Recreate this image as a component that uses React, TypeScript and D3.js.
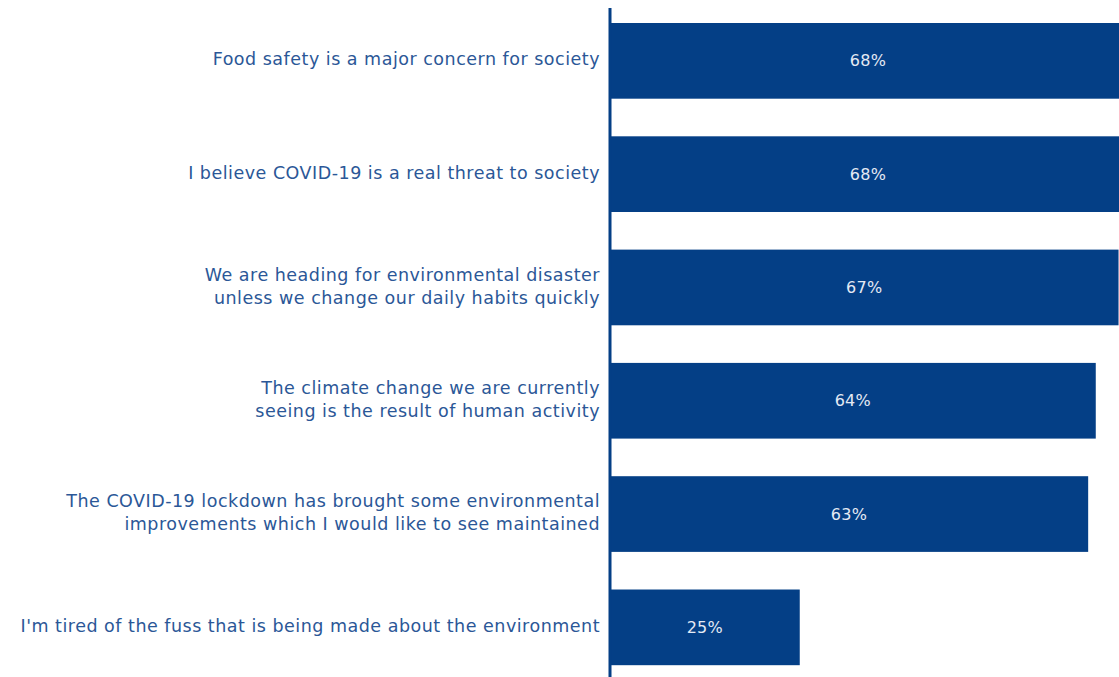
import React from "react";
import * as d3 from "d3";

const categories: string[][] = [
  ["Food safety is a major concern for society"],
  ["I believe COVID-19 is a real threat to society"],
  ["We are heading for environmental disaster", "unless we change our daily habits quickly"],
  ["The climate change we are currently", "seeing is the result of human activity"],
  ["The COVID-19 lockdown has brought some environmental", "improvements which I would like to see maintained"],
  ["I'm tired of the fuss that is being made about the environment"],
];
const values: number[] = [68, 68, 67, 64, 63, 25];
const valueLabels: string[] = ["68%", "68%", "67%", "64%", "63%", "25%"];

const W = 1119;
const H = 677;
const axisX = 610;

export default function App() {
  const x = d3.scaleLinear().domain([0, 100]).range([axisX, axisX + 759]);
  const y = d3
    .scaleBand<number>()
    .domain(d3.range(values.length))
    .range([4.2, 684])
    .paddingInner(0.332)
    .paddingOuter(0.166);
  const barColor = "#043f86";
  const labelColor = "#2b5797";
  const font = "'DejaVu Sans', 'Open Sans', sans-serif";
  return (
    <svg
      width={W}
      height={H}
      style={{ position: "absolute", left: 0, top: 0, display: "block" }}
    >
      <rect x={0} y={0} width={W} height={H} fill="#fff" />
      {values.map((v, i) => {
        const y0 = y(i)!;
        const bh = y.bandwidth();
        const cy = y0 + bh / 2;
        const lines = categories[i];
        const lh = 23;
        return (
          <g key={i}>
            <rect x={x(0)} y={y0} width={x(v) - x(0)} height={bh} fill={barColor} />
            <text
              x={(x(0) + x(v)) / 2}
              y={cy}
              dy="0.35em"
              textAnchor="middle"
              fill="#e4eaf4"
              fontFamily={font}
              fontSize={16}
              letterSpacing={0.3}
            >
              {valueLabels[i]}
            </text>
            {lines.map((ln, j) => (
              <text
                key={j}
                x={600}
                y={cy + (j - (lines.length - 1) / 2) * lh - 1.5}
                dy="0.35em"
                textAnchor="end"
                fill={labelColor}
                fontFamily={font}
                fontSize={17.5}
                letterSpacing={0.5}
              >
                {ln}
              </text>
            ))}
          </g>
        );
      })}
      <line x1={axisX} x2={axisX} y1={8} y2={H} stroke={barColor} strokeWidth={3} />
    </svg>
  );
}
